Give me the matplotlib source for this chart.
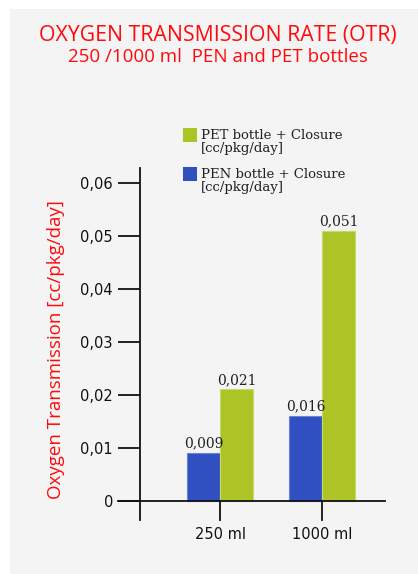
import matplotlib
matplotlib.use("Agg")
import matplotlib.pyplot as plt
from matplotlib.patches import Rectangle

categories = ["250 ml", "1000 ml"]
pen_values = [0.009, 0.016]
pet_values = [0.021, 0.051]
yticks = [0, 0.01, 0.02, 0.03, 0.04, 0.05, 0.06]
ytick_labels = ["0", "0,01", "0,02", "0,03", "0,04", "0,05", "0,06"]
pen_label = "PEN bottle + Closure\n[cc/pkg/day]"
pet_label = "PET bottle + Closure\n[cc/pkg/day]"

red = "#ff0a0a"
green = "#adc427"
blue = "#3050c2"
sans = ["Open Sans", "DejaVu Sans"]
serif = ["DejaVu Serif"]
tickfont = ["DejaVu Sans"]

W, H = 418, 574
fig = plt.figure(figsize=(W / 100, H / 100), dpi=100)
fig.patch.set_facecolor("white")
fig.patches.append(Rectangle((10 / W, 0), 1, (H - 9) / H, transform=fig.transFigure,
                             facecolor="#f4f4f4", edgecolor="none", zorder=-10))

ax = fig.add_axes([140 / W, (H - 520) / H, 245 / W, 352 / H])
ax.set_facecolor("none")

w = 0.324
x = list(range(len(categories)))
ax.bar([i - w / 2 for i in x], pen_values, w, color=blue, edgecolor="#6a82d8", linewidth=0.8, zorder=2)
ax.bar([i + w / 2 for i in x], pet_values, w, color=green, edgecolor="#c8d86e", linewidth=0.8, zorder=2)

for i in x:
    ax.text(i - w / 2, pen_values[i] + 0.0005, f"{pen_values[i]:.3f}".replace(".", ","),
            ha="center", va="bottom", fontsize=10, family=serif, color="#222222")
    ax.text(i + w / 2, pet_values[i] + 0.0005, f"{pet_values[i]:.3f}".replace(".", ","),
            ha="center", va="bottom", fontsize=10, family=serif, color="#222222")

xl = (-0.787, 1.62)
yl = (-0.00364, 0.0628)
ax.set_xlim(*xl)
ax.set_ylim(*yl)

for s in ["top", "right", "bottom"]:
    ax.spines[s].set_visible(False)
ax.spines["left"].set_linewidth(1.3)
ax.spines["left"].set_color("#111111")

# x axis line at zero, extending left of the y axis
ax.plot([xl[0] - 0.216, xl[1]], [0, 0], color="#111111", lw=1.3, clip_on=False, zorder=3)
# category ticks below zero
for i in x:
    ax.plot([i, i], [yl[0], 0], color="#111111", lw=1.3, clip_on=False, zorder=3)

ax.set_yticks(yticks)
ax.set_yticklabels(ytick_labels, family=tickfont, fontsize=10.5, color="#111111")
ax.tick_params(axis="y", length=16, width=1.3, pad=3.5, color="#111111")
ax.set_xticks([])
for i, c in enumerate(categories):
    ax.text(i, -0.0064, c, ha="center", va="center", family=tickfont, fontsize=10.5, color="#111111")

fig.text(217.5 / W, 1 - 35 / H, "OXYGEN TRANSMISSION RATE (OTR)", ha="center", va="center",
         color=red, fontsize=15.3, family=sans)
fig.text(218 / W, 1 - 57 / H, "250 /1000 ml  PEN and PET bottles", ha="center", va="center",
         color=red, fontsize=13.5, family=sans)
fig.text(56 / W, 1 - 350 / H, "Oxygen Transmission [cc/pkg/day]", ha="center", va="center",
         rotation=90, color=red, fontsize=13.5, family=sans)

# legend
for top, col, lab in [(128, green, pet_label), (167, blue, pen_label)]:
    fig.patches.append(Rectangle((183 / W, 1 - (top + 14) / H), 14 / W, 14 / H,
                                 transform=fig.transFigure, facecolor=col, edgecolor="none"))
    fig.text(201 / W, 1 - (top + 1) / H, lab, ha="left", va="top", family=serif,
             fontsize=9.5, color="#222222", linespacing=1.0)

fig.savefig("out.png", dpi=100)
